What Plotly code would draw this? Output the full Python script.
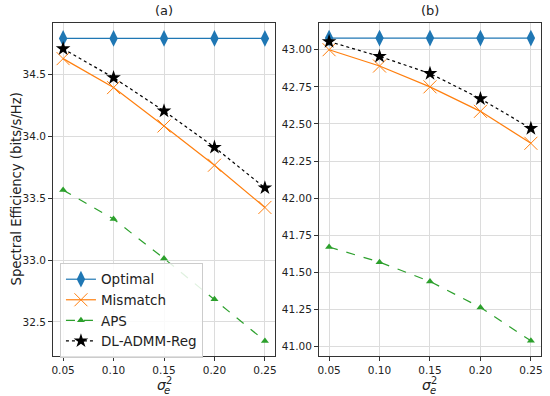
import plotly.graph_objects as go

x_vals = [0.05, 0.10, 0.15, 0.20, 0.25]
x_ticks = ["0.05", "0.10", "0.15", "0.20", "0.25"]

a_optimal = [34.79, 34.79, 34.79, 34.79, 34.79]
a_mismatch = [34.627, 34.393, 34.083, 33.766, 33.425]
a_aps = [33.565, 33.331, 33.013, 32.683, 32.347]
a_dl = [34.707, 34.473, 34.204, 33.911, 33.583]

b_optimal = [43.078, 43.078, 43.078, 43.078, 43.078]
b_mismatch = [43.00, 42.89, 42.75, 42.585, 42.37]
b_aps = [41.672, 41.57, 41.44, 41.265, 41.04]
b_dl = [43.055, 42.955, 42.84, 42.67, 42.47]

names = ["Optimal", "Mismatch", "APS", "DL-ADMM-Reg"]
colors = ["#1f77b4", "#ff7f0e", "#2ca02c", "#000000"]
dashes = ["solid", "solid", "dash", "dot"]
symbols = ["diamond-tall", "x-thin-open", "triangle-up", "star"]
msizes = [12, 13, 7, 11]

FONT = "DejaVu Sans"
TXT = "#222"

fig = go.Figure()

panels = [
    ("x", "y", [a_optimal, a_mismatch, a_aps, a_dl], True),
    ("x2", "y2", [b_optimal, b_mismatch, b_aps, b_dl], False),
]
for xa, ya, series, show in panels:
    for i, ys in enumerate(series):
        marker = dict(symbol=symbols[i], size=msizes[i], color=colors[i])
        if symbols[i] == "x-thin-open":
            marker["line"] = dict(color=colors[i], width=1)
        fig.add_trace(go.Scatter(
            x=x_vals, y=ys, name=names[i], mode="lines+markers",
            line=dict(color=colors[i], width=1.2, dash=dashes[i]),
            marker=marker, xaxis=xa, yaxis=ya, showlegend=show,
        ))

axis_common = dict(
    showline=True, mirror=True, linecolor="#333", linewidth=1,
    showgrid=True, gridcolor="#dcdcdc", gridwidth=1,
    ticks="outside", ticklen=4, tickcolor="#333",
    tickfont=dict(size=10.5, color=TXT, family=FONT),
    zeroline=False, automargin=False,
)
xcommon = dict(axis_common, range=[0.04, 0.26], tickvals=x_vals, ticktext=x_ticks)

annotations = []
for xd, yd, label in [("x domain", "y domain", "(a)"), ("x2 domain", "y2 domain", "(b)")]:
    annotations.append(dict(text=label, x=0.5, y=1, xref=xd, yref=yd, yanchor="bottom",
                            yshift=3, showarrow=False,
                            font=dict(size=13, family=FONT, color=TXT)))
    annotations.append(dict(text="<i>σ</i><sup>2</sup>", x=0.5, y=0, xref=xd, yref=yd,
                            yanchor="top", yshift=-17, xshift=0, showarrow=False,
                            font=dict(size=14, family=FONT, color=TXT)))
    annotations.append(dict(text="<i>e</i>", x=0.5, y=0, xref=xd, yref=yd,
                            yanchor="top", yshift=-27, xshift=3, showarrow=False,
                            font=dict(size=10, family=FONT, color=TXT)))
annotations.append(dict(text="Spectral Efficiency (bits/s/Hz)", textangle=-90,
                        x=16 / 550, y=0.5215, xref="paper", yref="paper",
                        xanchor="center", yanchor="middle", showarrow=False,
                        font=dict(size=13.2, family=FONT, color=TXT)))

fig.update_layout(
    width=550, height=396,
    margin=dict(l=0, r=0, t=0, b=0, autoexpand=False),
    paper_bgcolor="white", plot_bgcolor="white",
    font=dict(family=FONT, color=TXT),
    xaxis=dict(xcommon, domain=[0.0964, 0.5], anchor="y"),
    yaxis=dict(axis_common, domain=[0.101, 0.942], anchor="x",
               range=[32.225, 34.915], dtick=0.5, tickformat=".1f"),
    xaxis2=dict(xcommon, domain=[0.58, 0.9836], anchor="y2"),
    yaxis2=dict(axis_common, domain=[0.101, 0.942], anchor="x2",
                range=[40.938, 43.18], dtick=0.25, tickformat=".2f"),
    legend=dict(x=0.109, y=0.336, xanchor="left", yanchor="top",
                bgcolor="rgba(255,255,255,0.85)", bordercolor="#ccc", borderwidth=1,
                font=dict(size=13.5, family=FONT, color=TXT),
                tracegroupgap=0, itemwidth=30),
    annotations=annotations,
)

fig.write_html("out.html", config={"displayModeBar": False},
               post_script="document.body.style.margin='0';document.body.style.padding='0';")
